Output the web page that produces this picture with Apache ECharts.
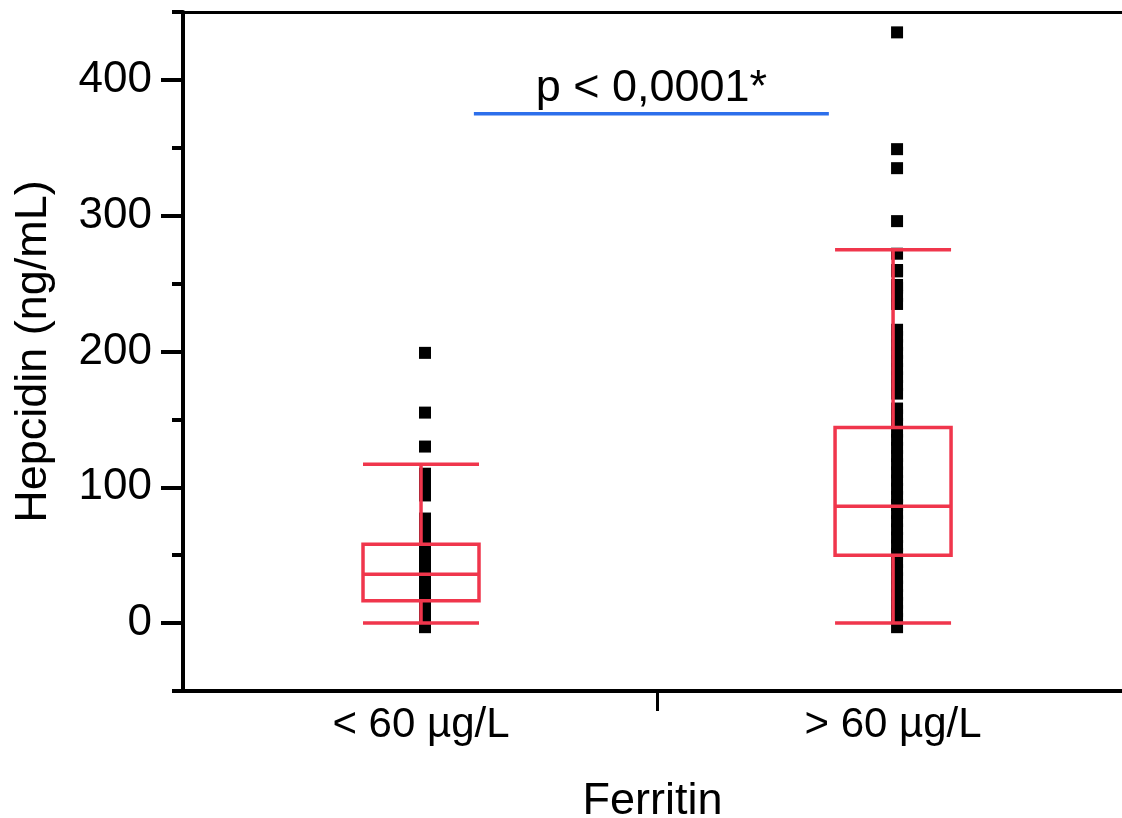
<!DOCTYPE html>
<html>
<head>
<meta charset="utf-8">
<script src="https://cdn.jsdelivr.net/npm/echarts@6/dist/echarts.min.js"></script>
<style>
html,body{margin:0;padding:0;background:#fff;}
#c{width:1122px;height:818px;}
</style>
</head>
<body>
<div id="c"></div>
<script>
// ---- data ----
const categories = ['< 60 µg/L', '> 60 µg/L'];
const categoryX = [1, 2];
// boxplot stats: [min, Q1, median, Q3, max]
const boxLow = [0, 16.5, 36, 58, 117];
const boxHigh = [0, 50, 86, 144, 275];
// individual hepcidin values (ng/mL)
const pointsLow = [-3, 3, 9, 15, 21, 27, 33, 39, 45, 51, 57, 63, 69, 75, 77,
  94, 100, 105, 110, 130, 155, 199];
const pointsHigh = [-3, 3, 9, 15, 21, 27, 33, 39, 45, 51, 57, 63, 69, 75, 81, 87,
  93, 99, 105, 111, 117, 123, 129, 135, 141, 147, 153, 158,
  169, 175, 181, 187, 193, 199, 205, 211, 216,
  235, 241, 247, 249, 259, 260, 272, 296, 335, 349, 435];
const yTicks = [0, 100, 200, 300, 400];
const sigX = [1.112, 1.864];
const sigY = 375;
const sigText = 'p < 0,0001*';

const FONT = 'Liberation Sans, Arial, sans-serif';
const RED = '#F0364C';
const X_MIN = 0.4958, X_MAX = 2.485;
const chart = echarts.init(document.getElementById('c'));

chart.setOption({
  animation: false,
  backgroundColor: '#fff',
  grid: {left: 183, top: 12, right: 0, height: 679, containLabel: false, outerBoundsMode: 'none'},
  xAxis: [{
    type: 'value', min: X_MIN, max: X_MAX, position: 'bottom',
    axisLine: {show: true, onZero: false, lineStyle: {color: '#000', width: 4}},
    axisTick: {show: true, customValues: [1.5], length: 20, lineStyle: {color: '#000', width: 3}},
    axisLabel: {show: true, customValues: categoryX, margin: 13, color: '#000', fontSize: 42, fontFamily: FONT,
      formatter: v => categories[Math.round(v) - 1]},
    splitLine: {show: false},
    name: 'Ferritin', nameLocation: 'middle', nameGap: 88,
    nameTextStyle: {color: '#000', fontSize: 45, fontFamily: FONT}
  }, {
    type: 'value', min: X_MIN, max: X_MAX, position: 'top',
    axisLine: {show: true, onZero: false, lineStyle: {color: '#000', width: 3}},
    axisTick: {show: false}, axisLabel: {show: false}, splitLine: {show: false}
  }],
  yAxis: [{
    type: 'value', min: -50, max: 450, position: 'left',
    axisLine: {show: true, onZero: false, lineStyle: {color: '#000', width: 4}},
    axisTick: {show: true, customValues: yTicks, length: 22, lineStyle: {color: '#000', width: 4}},
    axisLabel: {show: true, customValues: yTicks, margin: 31, color: '#000', fontSize: 44, fontFamily: FONT},
    splitLine: {show: false},
    name: 'Hepcidin (ng/mL)', nameLocation: 'middle', nameGap: 127,
    nameTextStyle: {color: '#000', fontSize: 45, fontFamily: FONT}
  }, {
    type: 'value', min: -50, max: 450, interval: 50, position: 'left', offset: 0,
    axisLine: {show: false},
    axisTick: {show: true, length: 11, lineStyle: {color: '#000', width: 4}},
    axisLabel: {show: false}, splitLine: {show: false}
  }],
  series: [
    {
      type: 'scatter', xAxisIndex: 0, yAxisIndex: 0, z: 2,
      symbol: 'rect', symbolSize: 12, symbolOffset: [4, 0],
      itemStyle: {color: '#000', opacity: 1},
      emphasis: {disabled: true},
      data: pointsLow.map(v => [categoryX[0], v]).concat(pointsHigh.map(v => [categoryX[1], v]))
    },
    {
      type: 'boxplot', xAxisIndex: 0, yAxisIndex: 0, z: 3,
      layout: 'horizontal',
      boxWidth: [116, 116],
      itemStyle: {color: 'rgba(0,0,0,0)', borderColor: RED, borderWidth: 3.5},
      data: [[categoryX[0]].concat(boxLow), [categoryX[1]].concat(boxHigh)]
    },
    {
      type: 'line', xAxisIndex: 0, yAxisIndex: 0, z: 4,
      symbol: 'none', lineStyle: {color: '#2D6FEB', width: 3.5},
      data: [[sigX[0], sigY], [sigX[1], sigY]]
    },
    {
      type: 'scatter', xAxisIndex: 0, yAxisIndex: 0, z: 5,
      symbolSize: 0,
      itemStyle: {opacity: 1},
      label: {show: true, position: 'top', distance: 3, formatter: sigText,
        color: '#000', opacity: 1, fontSize: 45, fontFamily: FONT},
      data: [[(sigX[0] + sigX[1]) / 2, sigY]]
    }
  ]
});
</script>
</body>
</html>
